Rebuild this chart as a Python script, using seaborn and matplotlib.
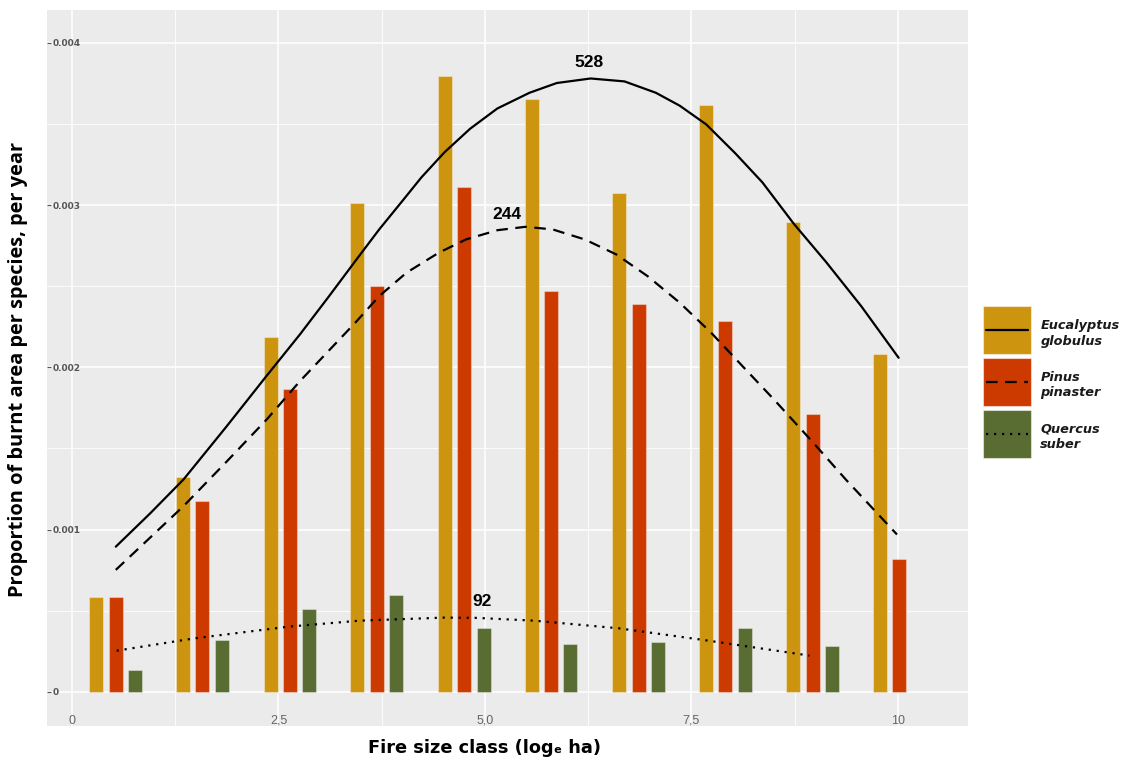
import numpy as np
import pandas as pd
import matplotlib
matplotlib.use("Agg")
import matplotlib.pyplot as plt
import seaborn as sns
from matplotlib.patches import Rectangle
from matplotlib.lines import Line2D
from matplotlib.legend_handler import HandlerBase
from matplotlib.ticker import MultipleLocator
from matplotlib.font_manager import FontProperties

# Fire size classes (log_e ha, class centres)
size_class = [0.53, 1.58, 2.64, 3.69, 4.75, 5.80, 6.86, 7.91, 8.97, 10.02]

# Proportion of burnt area per species, per year
eucalyptus = [0.000584, 0.001326, 0.002186, 0.003010, 0.003794,
              0.003651, 0.003076, 0.003616, 0.002897, 0.002080]
pinus = [0.000584, 0.001178, 0.001868, 0.002500, 0.003113,
         0.002470, 0.002388, 0.002285, 0.001710, 0.000816]
quercus = [0.000134, 0.000323, 0.000513, 0.000599, 0.000396,
           0.000297, 0.000307, 0.000396, 0.000282, None]

species = ["Eucalyptus globulus", "Pinus pinaster", "Quercus suber"]
legend_labels = ["Eucalyptus\nglobulus", "Pinus\npinaster", "Quercus\nsuber"]
colors = ["#CD950F", "#CD3A00", "#596C32"]

# Fitted curves per species
euc_fit_x = [0.53, 0.94, 1.35, 1.87, 2.36, 2.76, 3.10, 3.46, 3.72, 4.00,
             4.23, 4.51, 4.82, 5.15, 5.54, 5.87, 6.28, 6.69, 7.07, 7.36,
             7.68, 8.03, 8.36, 8.74, 9.13, 9.56, 10.01]
euc_fit_y = [0.000895, 0.001097, 0.001309, 0.001635, 0.001950, 0.002203,
             0.002430, 0.002675, 0.002850, 0.003025, 0.003170, 0.003325,
             0.003470, 0.003595, 0.003692, 0.003752, 0.003780, 0.003762,
             0.003692, 0.003612, 0.003497, 0.003320, 0.003140, 0.002885,
             0.002650, 0.002375, 0.002059]
pin_fit_x = [0.53, 0.94, 1.35, 1.87, 2.36, 2.76, 3.43, 3.72, 4.05, 4.44,
             4.77, 5.15, 5.49, 5.82, 6.21, 6.59, 6.97, 7.36, 7.74, 8.12,
             8.50, 8.94, 9.37, 9.99]
pin_fit_y = [0.000752, 0.000948, 0.001145, 0.001418, 0.001680, 0.001915,
             0.002275, 0.002439, 0.002583, 0.002706, 0.002788, 0.002845,
             0.002866, 0.002850, 0.002788, 0.002696, 0.002562, 0.002398,
             0.002213, 0.002007, 0.001802, 0.001556, 0.001309, 0.000970]
que_fit_x = [0.54, 1.48, 2.62, 3.48, 4.51, 4.91, 5.60, 6.62, 7.65, 8.93]
que_fit_y = [0.000254, 0.000330, 0.000402, 0.000439, 0.000458, 0.000456,
             0.000439, 0.000392, 0.000320, 0.000224]

# Sample sizes written above each curve
n_labels = ["528", "244", "92"]
n_label_x = [6.26, 5.27, 4.96]
n_label_y = [0.003877, 0.002942, 0.000559]

yticks = [0, 0.001, 0.002, 0.003, 0.004]
ytick_labels = ["0", "0.001", "0.002", "0.003", "0.004"]
xticks = [0, 2.5, 5.0, 7.5, 10]
xtick_labels = ["0", "2,5", "5,0", "7,5", "10"]

rows = []
for sp, vals in zip(species, [eucalyptus, pinus, quercus]):
    for x, v in zip(size_class, vals):
        if v is not None:
            rows.append({"size_class": x, "species": sp, "value": v})
df = pd.DataFrame(rows)

sns.set_style("darkgrid", {"axes.facecolor": "#EBEBEB", "grid.color": "white"})
plt.rcParams["font.family"] = ["Open Sans", "DejaVu Sans"]

fig = plt.figure(figsize=(11.29, 7.6), dpi=100)
ax = fig.add_axes([47 / 1129, 34 / 760, 921 / 1129, 716 / 760])

sns.barplot(data=df, x="size_class", y="value", hue="species",
            hue_order=species, palette=colors, native_scale=True,
            width=0.668, gap=0.275, saturation=1, errorbar=None,
            legend=False, edgecolor=(1, 1, 1, 0.35), linewidth=0.8, ax=ax)

line_styles = ["-", (0, (5.2, 3.4)), (0, (1.0, 2.6))]
for fx, fy, ls in zip([euc_fit_x, pin_fit_x, que_fit_x],
                      [euc_fit_y, pin_fit_y, que_fit_y], line_styles):
    sns.lineplot(x=fx, y=fy, color="black", linewidth=1.6, ax=ax, errorbar=None)
    ax.lines[-1].set_linestyle(ls)
    ax.lines[-1].set_solid_joinstyle("round")

for t, x, y in zip(n_labels, n_label_x, n_label_y):
    ax.text(x, y, t, ha="center", va="center", fontsize=12.5,
            fontweight="bold", family="Liberation Sans", color="black")

ax.set_xlim(-0.303, 10.85)
ax.set_ylim(-0.00021, 0.004202)

ax.set_xticks(xticks, labels=xtick_labels)
ax.set_yticks(yticks, labels=ytick_labels)
ax.xaxis.set_minor_locator(MultipleLocator(1.25))
ax.yaxis.set_minor_locator(MultipleLocator(0.0005))
ax.grid(which="major", color="white", linewidth=1.1)
ax.grid(which="minor", color="white", linewidth=0.6)
ax.set_axisbelow(True)
for s in ax.spines.values():
    s.set_visible(False)

ax.tick_params(axis="y", which="major", direction="in", length=3, width=0.8,
               color="#555555", pad=-4, left=True)
ax.tick_params(axis="x", which="major", length=0, pad=0.5)
ax.tick_params(which="minor", length=0)
for lab in ax.get_yticklabels():
    lab.set_ha("left")
    lab.set_fontsize(6.5)
    lab.set_fontweight("bold")
    lab.set_color("#555555")
    lab.set_family("DejaVu Sans")
for lab in ax.get_xticklabels():
    lab.set_va("bottom")
    lab.set_fontsize(9)
    lab.set_color("#666666")
    lab.set_family(["Liberation Sans Narrow", "Liberation Sans"])

ax.set_xlabel("Fire size class (logₑ ha)", fontsize=12.8, fontweight="bold",
              family="DejaVu Sans", color="black")
ax.set_ylabel("Proportion of burnt area per species, per year", fontsize=14.4,
              fontweight="bold", family=["Open Sans", "DejaVu Sans"], color="black")
ax.xaxis.set_label_coords((485 - 47) / 921, (726 - 748) / 716)
ax.xaxis.label.set_va("center")
ax.yaxis.set_label_coords((18 - 47) / 921, (726 - 369) / 716)
ax.yaxis.label.set_va("center")


class KeyHandler(HandlerBase):
    """Filled colour square with the fitted-curve line style drawn across it."""

    def create_artists(self, legend, orig_handle, xdescent, ydescent,
                       width, height, fontsize, trans):
        color, ls = orig_handle
        key_h = 48 * 0.72
        bottom = -16 * 0.72
        rect = Rectangle((-xdescent, bottom), width, key_h, facecolor=color,
                         edgecolor=(1, 1, 1, 0.5), linewidth=0.8, transform=trans)
        yc = bottom + key_h / 2
        line = Line2D([-xdescent + 2.5, width - xdescent - 2.5], [yc, yc],
                      color="black", linewidth=1.6, linestyle=ls, transform=trans)
        return [rect, line]


handles = [(c, ls) for c, ls in zip(colors, line_styles)]
leg = fig.legend(handles, legend_labels, loc="upper left",
                 bbox_to_anchor=(983 / 1129, 1 - 319 / 760), frameon=False,
                 borderpad=0, borderaxespad=0, handlelength=3.716,
                 handleheight=2.0, labelspacing=1.80, handletextpad=0.72,
                 prop=FontProperties(family="DejaVu Sans", weight="bold",
                                     style="italic", size=9.3),
                 handler_map={tuple: KeyHandler()})
for t in leg.get_texts():
    t.set_linespacing(1.25)
    t.set_color("#1a1a1a")

fig.savefig("out.png", dpi=100)
